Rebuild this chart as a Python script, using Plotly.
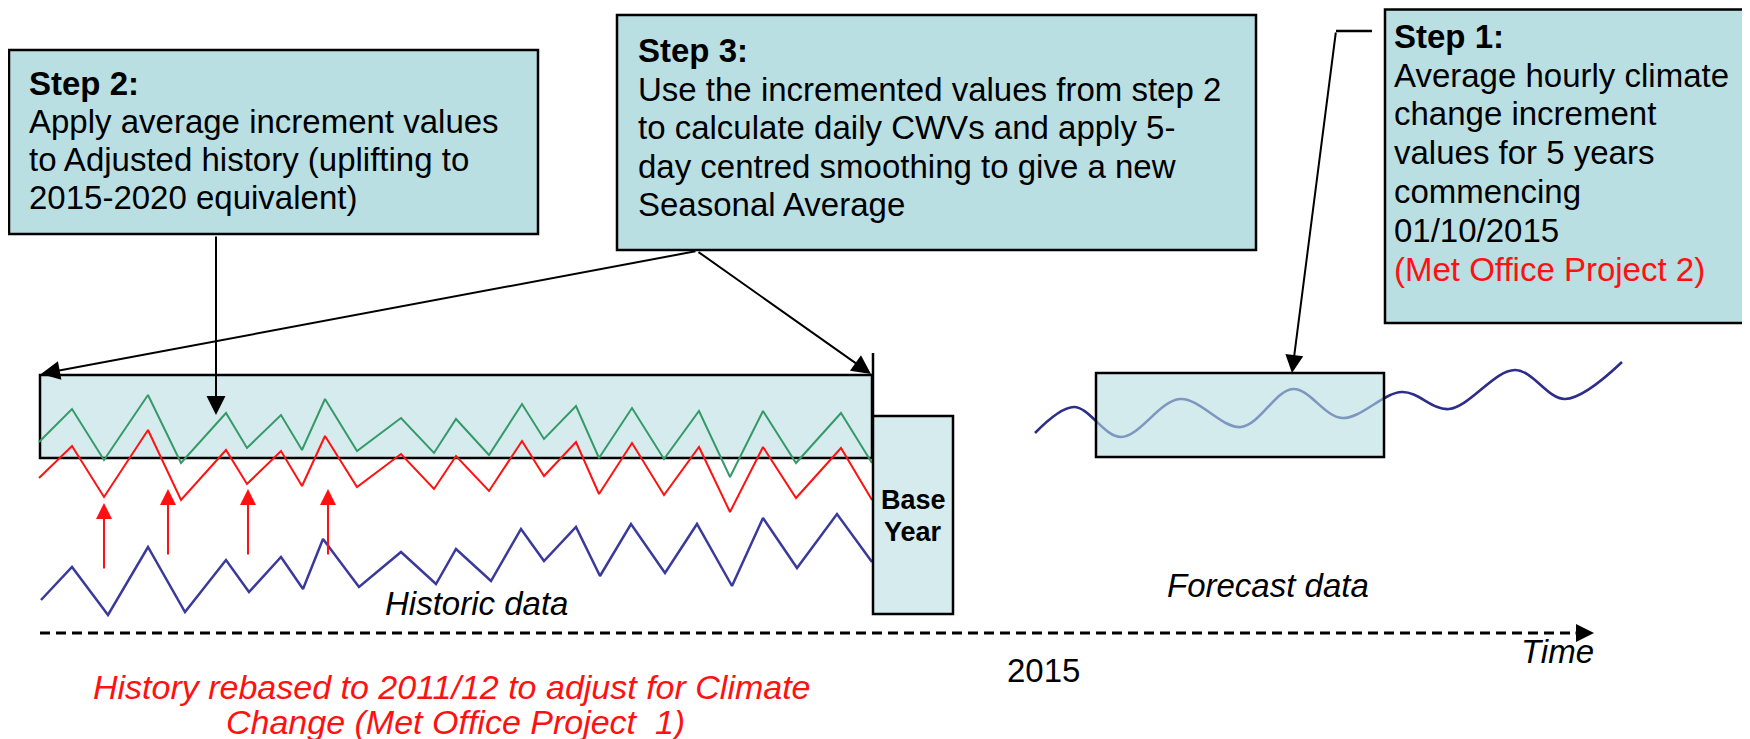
import plotly.graph_objects as go

W, H = 1750, 739
OFF = 8  # page body margin: shift axis ranges so canvas units equal screen pixels

# ---------------- data (diagram canvas units) ----------------
# Historic series: adjusted (green) and rebased (red) share x positions
hist_x = [39, 72, 104, 148, 181, 226, 247, 281, 302, 325, 357, 401, 434, 456,
          489, 522, 544, 576, 599, 632, 664, 699, 730, 763, 796, 841, 872]
red_y = [478, 446, 497, 430, 500, 450, 484, 451, 486, 436, 487, 454, 489, 456,
         491, 441, 476, 442, 494, 443, 495, 447, 512, 447, 498, 448, 500]
green_y = [442, 409, 460, 395, 463, 413, 448, 415, 450, 399, 451, 418, 453, 419,
           455, 404, 439, 406, 458, 408, 459, 411, 477, 411, 463, 413, 463]
# Original historic data (blue)
blue_x = [41, 72, 108, 148, 185, 226, 249, 281, 303, 323, 359, 401, 436, 456,
          491, 521, 544, 576, 600, 631, 665, 697, 732, 763, 797, 837, 872]
blue_y = [600, 567, 615, 547, 612, 560, 592, 557, 589, 539, 587, 552, 584, 549,
          581, 529, 561, 527, 576, 524, 573, 524, 586, 518, 568, 514, 562]
# Forecast data (smooth wave)
fc_x = [1035, 1074, 1121, 1180, 1241, 1293, 1342, 1402, 1449, 1515, 1565, 1622]
fc_y = [433, 407, 437, 399, 427, 389, 418, 392, 409, 370, 399, 362]
# Red uplift arrows
uplift_x = [104, 168, 248, 328]
uplift_base = [570, 556, 556, 556]
uplift_tip = [503, 489, 489, 489]

step2_lines = ["<b>Step 2:</b>", "Apply average increment values",
               "to Adjusted history (uplifting to", "2015-2020 equivalent)"]
step3_lines = ["<b>Step 3:</b>", "Use the incremented values from step 2",
               "to calculate daily CWVs and apply 5-",
               "day centred smoothing to give a new", "Seasonal Average"]
step1_lines = ["<b>Step 1:</b>", "Average hourly climate", "change increment",
               "values for 5 years", "commencing", "01/10/2015"]
step1_red = "(Met Office Project 2)"
red_note = ["History rebased to 2011/12 to adjust for Climate",
            "Change (Met Office Project\u00a0 1)"]

# ---------------- styling ----------------
FONT = "Liberation Sans, Arial, sans-serif"
FS = 33
BOX_FILL = "#badfe3"
LIGHT_FILL = "#d6ebee"
NAVY = "#3a3a9c"
GREEN = "#359a68"
RED = "#ff1111"

fig = go.Figure()

fig.add_trace(go.Scatter(x=blue_x, y=blue_y, mode="lines",
                         line=dict(color=NAVY, width=2.5), hoverinfo="skip"))
fig.add_trace(go.Scatter(x=hist_x, y=red_y, mode="lines",
                         line=dict(color=RED, width=2), hoverinfo="skip"))
fig.add_trace(go.Scatter(x=hist_x, y=green_y, mode="lines",
                         line=dict(color=GREEN, width=2), hoverinfo="skip"))
fig.add_trace(go.Scatter(x=fc_x, y=fc_y, mode="lines",
                         line=dict(color="#2d2d8c", width=2.6, shape="spline", smoothing=1.0),
                         hoverinfo="skip"))
# dashed time axis
fig.add_trace(go.Scatter(x=[40, 1580], y=[633, 633], mode="lines",
                         line=dict(color="black", width=3, dash="10px,6px"),
                         hoverinfo="skip"))

shapes = []
# history box (under lines)
shapes.append(dict(type="rect", x0=40, y0=375, x1=872, y1=458, layer="below",
                   fillcolor=LIGHT_FILL, line=dict(color="black", width=2.5)))
# base year box
shapes.append(dict(type="rect", x0=873, y0=416, x1=953, y1=614, layer="above",
                   fillcolor=LIGHT_FILL, line=dict(color="black", width=2.5)))
shapes.append(dict(type="line", x0=873, y0=353, x1=873, y1=416, layer="above",
                   line=dict(color="black", width=2.5)))
# forecast box (semi-transparent over the wave)
shapes.append(dict(type="rect", x0=1096, y0=373, x1=1384, y1=457, layer="above",
                   fillcolor="rgba(182,221,225,0.6)", line=dict(color="black", width=2.5)))
# callout boxes
shapes.append(dict(type="rect", x0=9, y0=50, x1=538, y1=234, layer="above",
                   fillcolor=BOX_FILL, line=dict(color="black", width=2.5)))
shapes.append(dict(type="rect", x0=617, y0=15, x1=1256, y1=250, layer="above",
                   fillcolor=BOX_FILL, line=dict(color="black", width=2.5)))
shapes.append(dict(type="rect", x0=1385, y0=9.5, x1=1746, y1=323, layer="above",
                   fillcolor=BOX_FILL, line=dict(color="black", width=2.5)))
# step 1 connector horizontal piece
shapes.append(dict(type="line", x0=1336, y0=31, x1=1372, y1=31, layer="above",
                   line=dict(color="black", width=2.5)))

ann = []


def arrow(x, y, ax, ay, color="black", width=2, size=1.6, head=2):
    ann.append(dict(x=x, y=y, ax=ax, ay=ay, xref="x", yref="y", axref="x", ayref="y",
                    text="", showarrow=True, arrowhead=head, arrowsize=size,
                    arrowwidth=width, arrowcolor=color, standoff=0, startstandoff=0))


# step 3 arrows
arrow(41, 374, 697, 251, size=1.9)
arrow(871, 374, 697, 251, size=1.9)
# step 2 arrow
arrow(216, 415, 216, 235, size=1.9)
# step 1 arrow
arrow(1292, 373, 1336, 31, size=1.8)
# time axis arrow
arrow(1594, 633, 1574, 633, width=3, size=1.2)
# red uplift arrows
for xx, yb, yt in zip(uplift_x, uplift_base, uplift_tip):
    arrow(xx, yt, xx, yb, color=RED, width=2, size=1.6)


def text(x, y, s, size=FS, color="black", anchor="left", italic=False):
    ann.append(dict(x=x, y=y, xref="x", yref="y", text=s, showarrow=False,
                    xanchor=anchor, yanchor="middle",
                    font=dict(family=FONT, size=size, color=color,
                              style="italic" if italic else "normal")))


for s, yy in zip(step2_lines, [83, 121, 159, 197]):
    text(27, yy, s)
for s, yy in zip(step3_lines, [50, 89, 127, 166, 204]):
    text(636, yy, s)
for s, yy in zip(step1_lines, [36, 75, 113, 152, 191, 230]):
    text(1392, yy, s)
text(1392, 269, step1_red, color=RED)

text(913, 500, "<b>Base</b>", size=27, anchor="center")
text(913, 532, "<b>Year</b>", size=27, anchor="center")

text(476, 603, "Historic data", italic=True, anchor="center")
text(1268, 585, "Forecast data", italic=True, anchor="center")
text(1557, 651, "Time", italic=True, anchor="center")
text(1043, 670, "2015", anchor="center")
text(452, 687, red_note[0], size=34, color=RED, italic=True, anchor="center")
text(455, 722, red_note[1], size=34, color=RED, italic=True, anchor="center")

fig.update_layout(
    width=W, height=H,
    margin=dict(l=0, r=0, t=0, b=0),
    paper_bgcolor="white", plot_bgcolor="white",
    showlegend=False,
    xaxis=dict(range=[OFF, W + OFF], visible=False, fixedrange=True),
    yaxis=dict(range=[H + OFF, OFF], visible=False, fixedrange=True),
    shapes=shapes, annotations=ann,
)

fig.write_html("out.html")
